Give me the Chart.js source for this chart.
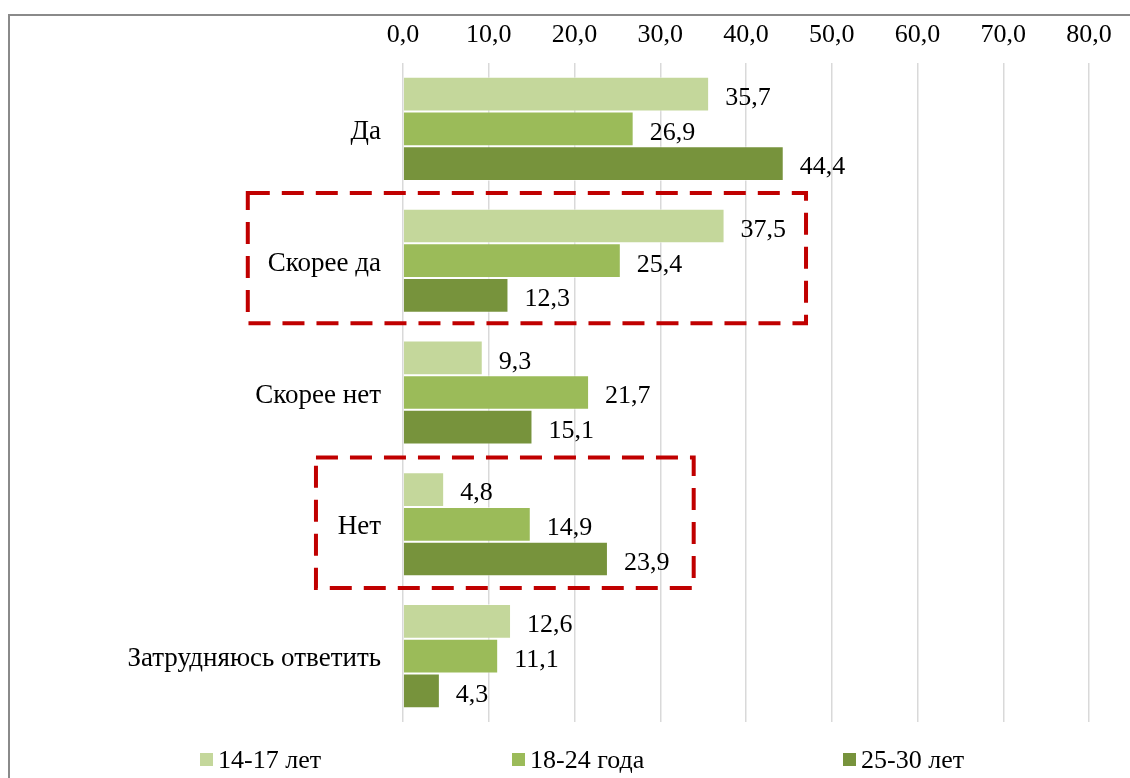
<!DOCTYPE html>
<html>
<head>
<meta charset="utf-8">
<script src="https://cdn.jsdelivr.net/npm/chart.js@4"></script>
<style>
  html, body { margin: 0; padding: 0; background: #fff; }
  canvas { display: block; }
</style>
</head>
<body>
<canvas id="c" width="1130" height="778"></canvas>
<script>
const categories = ["Да", "Скорее да", "Скорее нет", "Нет", "Затрудняюсь ответить"];
const seriesNames = ["14-17 лет", "18-24 года", "25-30 лет"];
const age14_17 = [35.7, 37.5, 9.3, 4.8, 12.6];
const age18_24 = [26.9, 25.4, 21.7, 14.9, 11.1];
const age25_30 = [44.4, 12.3, 15.1, 23.9, 4.3];
const xTicksMin = 0, xTicksMax = 80, xTicksStep = 10;

const colors = ["#C4D79B", "#9BBB59", "#77933C"];
const FONT = "'Liberation Serif', 'Times New Roman', serif";
const fmt = v => v.toFixed(1).replace('.', ',');

// highlight boxes: [xMin value, xMax value, yStart index, yEnd index]
const highlightBoxes = [
  [-18.1, 47.0, 0.487, 1.475],
  [-10.15, 33.9, 2.494, 3.483]
];
const legendX = [200, 512, 843];

const frame = {
  id: 'frame',
  beforeDraw(chart) {
    const ctx = chart.ctx;
    ctx.save();
    ctx.fillStyle = '#fff';
    ctx.fillRect(0, 0, chart.width, chart.height);
    ctx.strokeStyle = '#8a8a8a';
    ctx.lineWidth = 2;
    ctx.strokeRect(9, 15, 1300, 1000);
    ctx.restore();
  }
};

const labelsPlugin = {
  id: 'valueLabels',
  afterDatasetsDraw(chart) {
    const ctx = chart.ctx;
    ctx.save();
    ctx.font = "26px " + FONT;
    ctx.fillStyle = '#000';
    ctx.textAlign = 'left';
    ctx.textBaseline = 'middle';
    chart.data.datasets.forEach((ds, i) => {
      const meta = chart.getDatasetMeta(i);
      meta.data.forEach((bar, j) => {
        ctx.fillText(fmt(ds.data[j]), bar.x + 16, bar.y + 4);
      });
    });
    ctx.restore();
  }
};

const boxesPlugin = {
  id: 'boxes',
  afterDraw(chart) {
    const ctx = chart.ctx;
    const xs = chart.scales.x, ys = chart.scales.y;
    ctx.save();
    ctx.strokeStyle = '#C00000';
    ctx.lineWidth = 4;
    ctx.setLineDash([22, 12]);
    highlightBoxes.forEach(b => {
      const x1 = xs.getPixelForValue(b[0]);
      const x2 = xs.getPixelForValue(b[1]);
      const y1 = ys.getPixelForValue(b[2]);
      const y2 = ys.getPixelForValue(b[3]);
      ctx.strokeRect(x1, y1, x2 - x1, y2 - y1);
    });
    ctx.restore();
  }
};

const legendPlugin = {
  id: 'customLegend',
  afterDraw(chart) {
    const ctx = chart.ctx;
    ctx.save();
    ctx.font = "26px " + FONT;
    ctx.textBaseline = 'middle';
    ctx.textAlign = 'left';
    chart.data.datasets.forEach((ds, i) => {
      const x = legendX[i], y = 760;
      ctx.fillStyle = ds.backgroundColor;
      ctx.fillRect(x, y - 7, 13, 13);
      ctx.fillStyle = '#000';
      ctx.fillText(ds.label, x + 18, y + 1);
    });
    ctx.restore();
  }
};

const datasets = [age14_17, age18_24, age25_30].map((d, i) => ({
  label: seriesNames[i],
  data: d,
  backgroundColor: colors[i],
  borderColor: 'rgba(255,255,255,0.55)',
  borderWidth: 1,
  barPercentage: 1.0,
  categoryPercentage: 0.79
}));

new Chart(document.getElementById('c'), {
  type: 'bar',
  data: { labels: categories, datasets },
  options: {
    indexAxis: 'y',
    responsive: false,
    animation: false,
    layout: { padding: { left: 0, right: 41, top: 0, bottom: 56 } },
    plugins: { legend: { display: false }, tooltip: { enabled: false } },
    scales: {
      x: {
        position: 'top',
        min: xTicksMin, max: xTicksMax,
        ticks: {
          stepSize: xTicksStep,
          padding: 12,
          color: '#000',
          font: { family: FONT, size: 26 },
          callback: v => fmt(v)
        },
        grid: { color: '#d9d9d9', lineWidth: 1.5, drawTicks: false },
        border: { display: false },
        afterFit(s) { s.height = 63; }
      },
      y: {
        ticks: {
          padding: 22,
          labelOffset: 3,
          color: '#000',
          font: { family: FONT, size: 27 }
        },
        grid: { display: false, drawTicks: false },
        border: { display: false },
        afterFit(s) { s.width = 403; }
      }
    }
  },
  plugins: [frame, labelsPlugin, boxesPlugin, legendPlugin]
});
</script>
</body>
</html>
